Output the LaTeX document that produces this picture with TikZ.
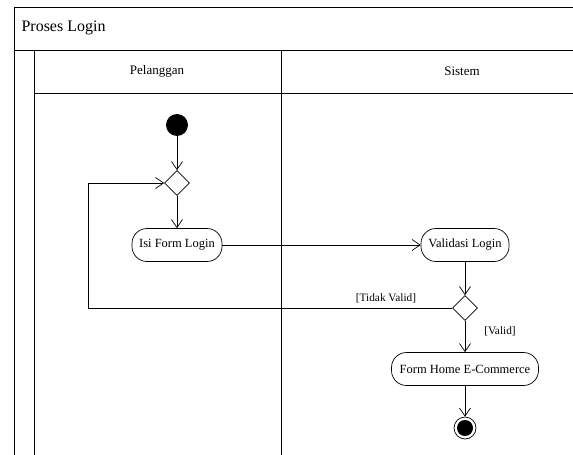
\documentclass[tikz,border=0pt]{standalone}
\usepackage{fontspec}
\setmainfont{Liberation Serif}
\usetikzlibrary{arrows.meta,shapes.geometric}

\begin{document}
\begin{tikzpicture}[x=1pt,y=-1pt,
  frameline/.style={draw=black, line width=0.9pt},
  action/.style={draw=black, line width=0.7pt, rectangle, rounded corners=15pt,
    minimum height=33, inner sep=2pt, font=\fontsize{12.5}{14}\selectfont},
  decision/.style={draw=black, line width=0.7pt, diamond, minimum width=25,
    minimum height=25, inner sep=0pt},
  flow/.style={draw=black, line width=0.7pt, -{Straight Barb[length=8pt,width=11pt]}},
  guard/.style={font=\fontsize{11.3}{13}\selectfont, inner sep=0pt}]

\useasboundingbox (0,0) rectangle (573,455);
\begin{scope}
\clip (0,0) rectangle (573,455);
% swimlane frame
\draw[frameline] (14,470) -- (14,7) -- (600,7);
\draw[frameline] (14,50) -- (600,50);
\draw[frameline] (34,50) -- (34,470);
\draw[frameline] (34,93) -- (600,93);
\draw[frameline] (281,50) -- (281,470);
\end{scope}

\node[anchor=west, font=\fontsize{16}{18}\selectfont] (title) at (18,28) {Proses Login};
\node[font=\fontsize{13}{15}\selectfont] (lane1) at (157,71) {Pelanggan};
\node[font=\fontsize{13}{15}\selectfont] (lane2) at (462,71) {Sistem};

% activity nodes
\node[circle, fill=black, minimum size=22, inner sep=0pt] (start) at (177,125) {};
\node[decision] (dec1) at (177,183) {};
\node[action, minimum width=90] (isi) at (177,245) {Isi Form Login};
\node[action, minimum width=88] (val) at (465,245) {Validasi Login};
\node[decision] (dec2) at (465,308) {};
\node[action, minimum width=147] (home) at (465,369) {Form Home E-Commerce};
\node[circle, draw=black, line width=0.7pt, minimum size=22, inner sep=0pt] (end) at (465,428) {};
\node[circle, fill=black, minimum size=16, inner sep=0pt] (endin) at (end.center) {};

\coordinate (loopx) at (88,0);

% control flow
\draw[flow] (start) -- (dec1.north);
\draw[flow] (dec1.south) -- (isi.north);
\draw[flow] (isi.east) -- (val.west);
\draw[flow] (val.south) -- (dec2.north);
\draw[flow] (dec2.south) -- (home.north);
\draw[flow] (home.south) -- (end.north);
\draw[flow] (dec2.west) -- (dec2.west -| loopx) |- (dec1.west);

\node[guard] (g1) at (386,298) {[Tidak Valid]};
\node[guard] (g2) at (500,331) {[Valid]};
\end{tikzpicture}
\end{document}
